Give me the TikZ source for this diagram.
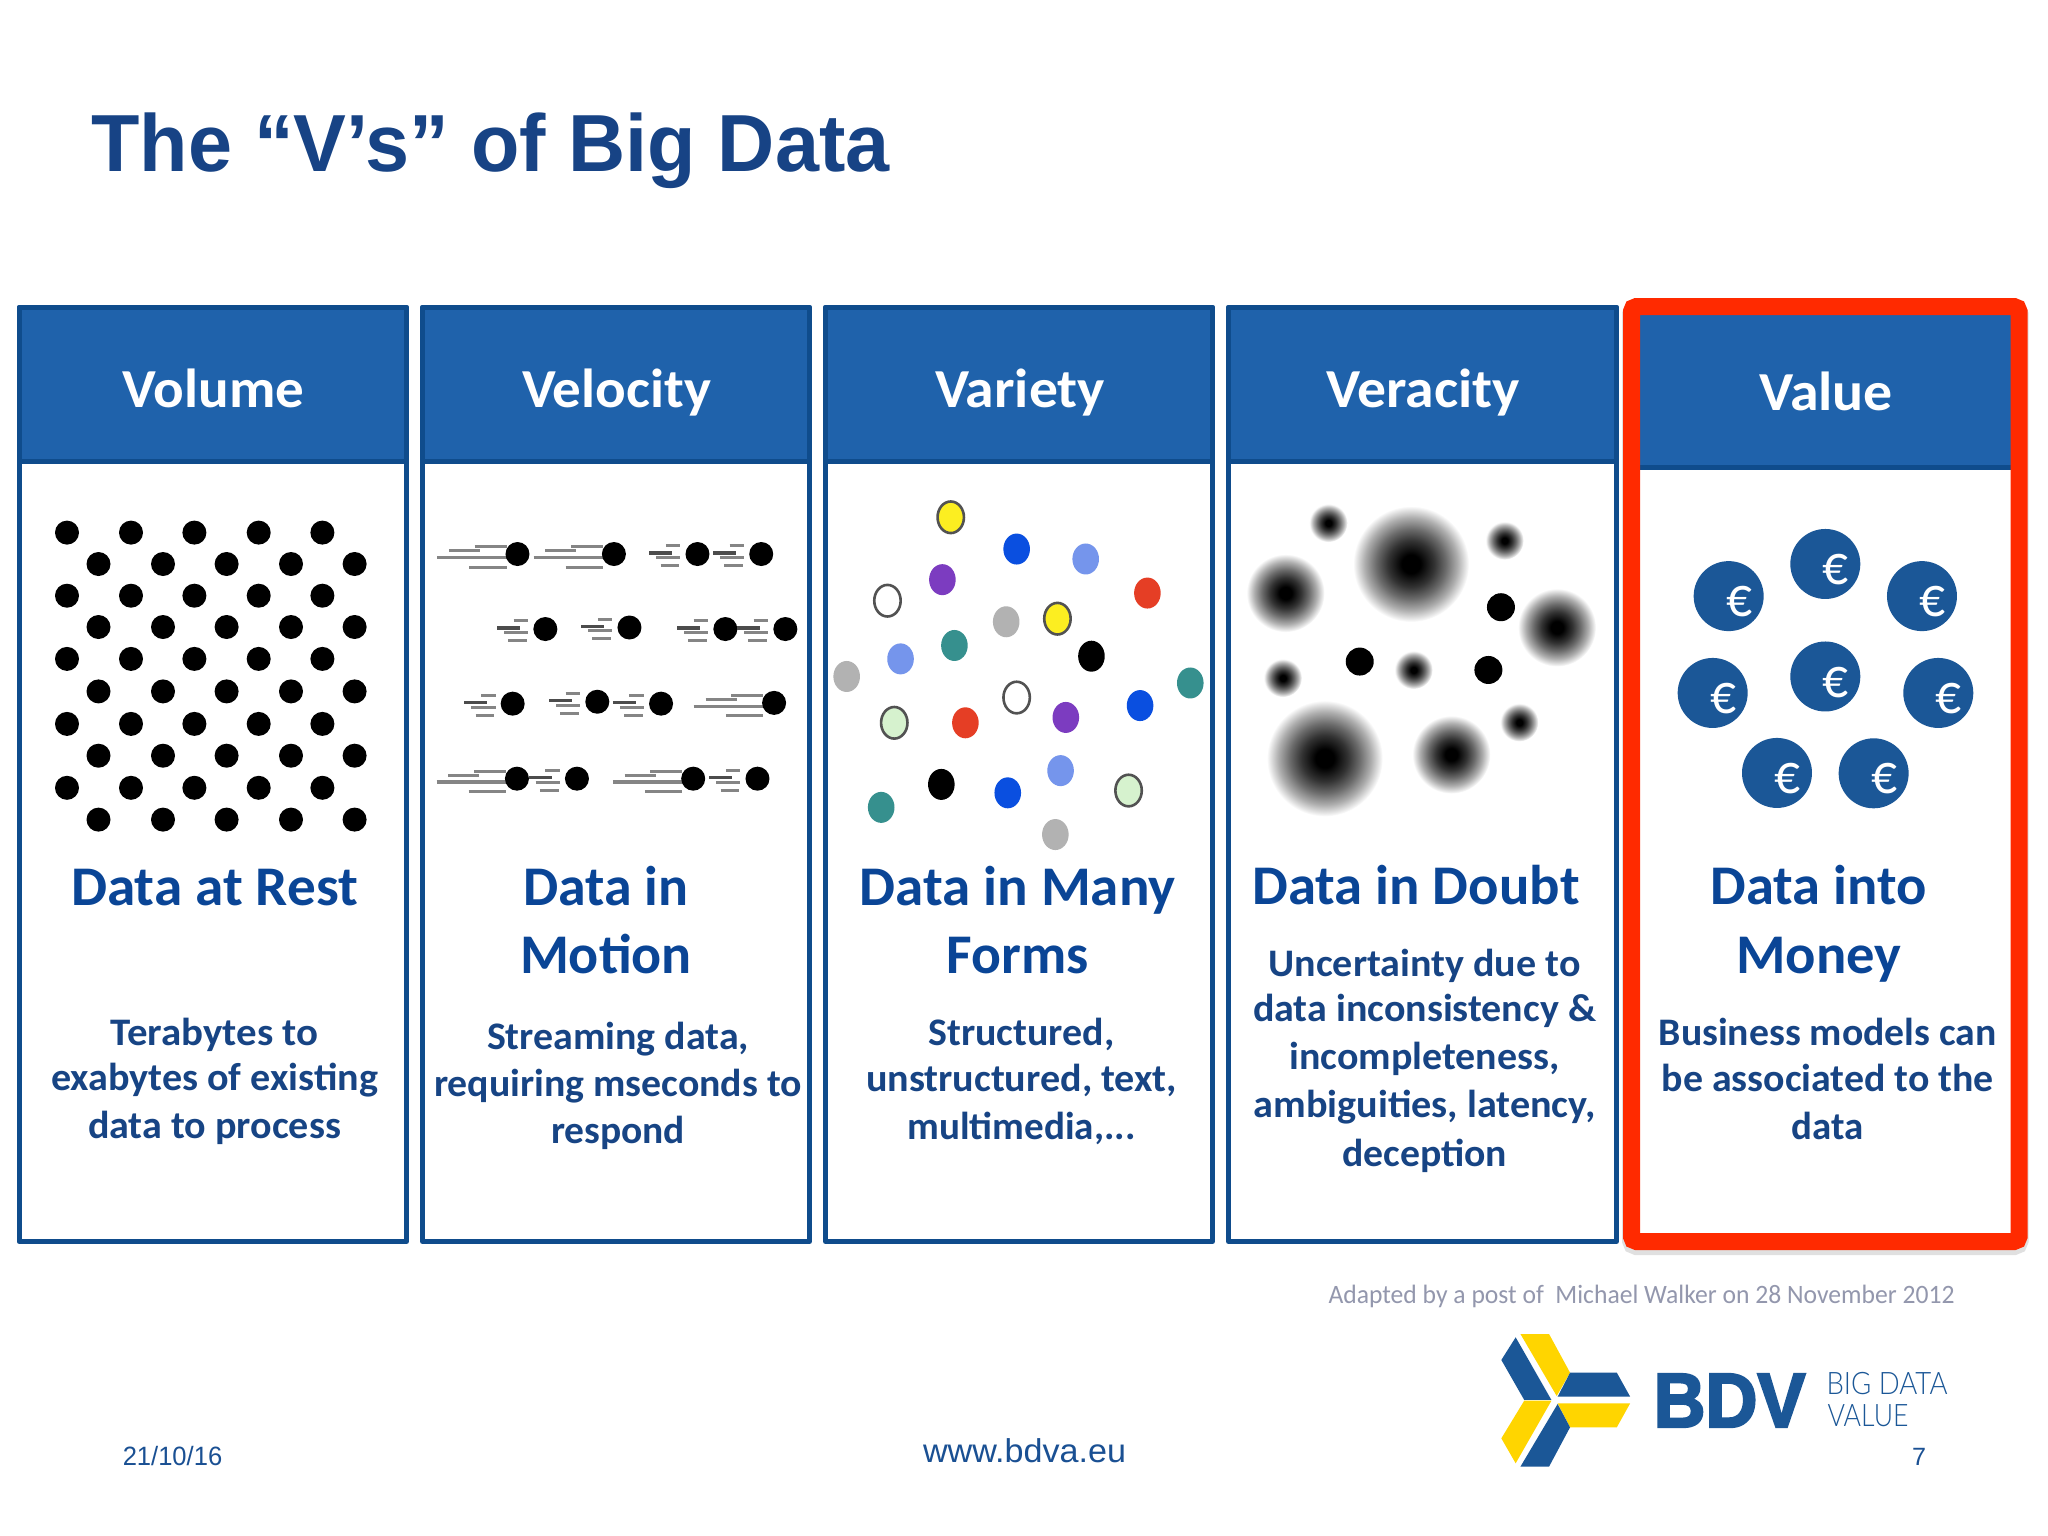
\documentclass[tikz,border=0pt]{standalone}
\usepackage{fontspec}
\setmainfont{Carlito}
\newfontfamily\arialf{Liberation Sans}
\newfontfamily\bdvf[FakeBold=3]{Liberation Sans Bold}
\newfontfamily\lightf{Lato Light}
\usetikzlibrary{calc}
\definecolor{hdr}{HTML}{1F62AB}
\definecolor{bord}{HTML}{0F4C8C}
\definecolor{subc}{HTML}{0A4596}
\definecolor{descc}{HTML}{174484}
\definecolor{titlec}{HTML}{174385}
\definecolor{footn}{HTML}{1A5093}
\definecolor{redc}{HTML}{FF2A00}
\definecolor{coin}{HTML}{1B5797}
\definecolor{logoy}{HTML}{FFD500}
\definecolor{footc}{HTML}{9397AD}
\definecolor{cy}{HTML}{FCEE21}
\definecolor{cb}{HTML}{0A4FE0}
\definecolor{cl}{HTML}{7595EC}
\definecolor{cp}{HTML}{7C3CC0}
\definecolor{cr}{HTML}{E53E25}
\definecolor{cg}{HTML}{B2B2B2}
\definecolor{ct}{HTML}{36908E}
\definecolor{cn}{HTML}{D6F2CE}
\pgfdeclareradialshading{blurball}{\pgfpoint{0bp}{0bp}}{color(0bp)=(black);color(4bp)=(black);color(10bp)=(black!80);color(15bp)=(black!58);color(20bp)=(black!32);color(23.5bp)=(black!10);color(25bp)=(white);color(100bp)=(white)}
\newsavebox\fitbox
\newcommand{\fitto}[2]{\sbox\fitbox{#2}\pgfmathsetmacro\fitr{#1/\wd\fitbox}\scalebox{\fitr}[1]{\usebox\fitbox}}
% name, style, cx, baseline, width, text
\newcommand{\lbl}[6]{\node[lab,#2] (#1) at (#3,#4) {\fitto{#5}{#6}};}
\newcommand{\trailL}[2]{\begin{scope}[shift={(#1,#2)}]
\draw[trail] (-80,-20)--(-20,-20);\draw[trail] (-128,-8)--(-70,-8);\draw[trail,line width=3.6pt] (-150,9)--(-20,9);\draw[trail] (-90,34)--(-20,34);
\fill (0,0) circle[radius=12pt];\end{scope}}
\newcommand{\trailS}[2]{\begin{scope}[shift={(#1,#2)}]
\draw[trail] (-59,-21)--(-32,-21);\draw[trail,line width=3.6pt,black!70] (-90,-3)--(-47,-3);\draw[trail] (-77,9)--(-32,9);\draw[trail] (-69,30)--(-34,30);
\fill (0,0) circle[radius=12pt];\end{scope}}
\tikzset{
 lab/.style={anchor=base,inner sep=0pt,outer sep=0pt},
 headt/.style={font=\bfseries\fontsize{55}{60}\selectfont,text=white},
 subt/.style={font=\bfseries\fontsize{56}{60}\selectfont,text=subc},
 desct/.style={font=\bfseries\fontsize{39}{44}\selectfont,text=descc},
 card/.style={draw=bord,line width=5pt,fill=white,line join=round},
 head/.style={draw=bord,line width=5pt,fill=hdr,line join=round},
 trail/.style={draw=black!48,line width=3pt},
 outl/.style={draw=black!68,line width=2.6pt}
}
\begin{document}
\begin{tikzpicture}[x=1pt,y=-1pt]
\useasboundingbox (0,0) rectangle (2048,1536);
\fill[white] (0,0) rectangle (2048,1536);
% title
\lbl{title}{font=\arialf\bfseries\fontsize{81}{90}\selectfont,text=titlec}{490.5}{171.5}{798}{The “V’s” of Big Data}
% cards
\foreach \l/\r in {19/406.5,422.5/809.5,825.5/1212.5,1228.5/1616.5}{
 \draw[card] (\l,307.5) rectangle (\r,1241.5);
 \draw[head] (\l,307.5) rectangle (\r,461.5);
}
% red frame
\draw[black!22,line width=17pt,rounded corners=5pt] (1631.5,309.5) rectangle (2019,1244.5);
\draw[black!12,line width=19pt,rounded corners=5pt] (1631.5,309.5) rectangle (2019,1245.5);
\fill[white] (1640,315) rectangle (2011,1233);
\fill[hdr] (1640,315) rectangle (2011,465);
\fill[bord] (1640,465) rectangle (2011,469.5);
\draw[redc,line width=17pt,rounded corners=5pt] (1631.5,306.5) rectangle (2019,1241.5);
% headings
\lbl{h1}{headt}{213.5}{407}{181.6}{Volume}
\lbl{h2}{headt}{616.5}{407}{189}{Velocity}
\lbl{h3}{headt}{1020}{407}{170}{Variety}
\lbl{h4}{headt}{1423}{407}{193.5}{Veracity}
\lbl{h5}{headt}{1826}{410}{134}{Value}
% sub-headings
\lbl{s1}{subt}{214.5}{905}{287}{Data at Rest}
\lbl{s2a}{subt}{605.5}{905}{165}{Data in}
\lbl{s2b}{subt}{606}{973.7}{172}{Motion}
\lbl{s3a}{subt}{1017.6}{905}{316}{Data in Many}
\lbl{s3b}{subt}{1017.6}{973.7}{142}{Forms}
\lbl{s4}{subt}{1416}{904}{327}{Data in Doubt}
\lbl{s5a}{subt}{1818.7}{904}{216}{Data into}
\lbl{s5b}{subt}{1818.7}{973.7}{165}{Money}
% descriptions
\lbl{d1a}{desct}{214.5}{1045}{208}{Terabytes to}
\lbl{d1b}{desct}{214.5}{1090}{327}{exabytes of existing}
\lbl{d1c}{desct}{214.5}{1138}{253}{data to process}
\lbl{d2a}{desct}{618}{1049}{262}{Streaming data,}
\lbl{d2b}{desct}{618}{1096}{368}{requiring mseconds to}
\lbl{d2c}{desct}{618}{1143}{134}{respond}
\lbl{d3a}{desct}{1021.5}{1045}{186}{Structured,}
\lbl{d3b}{desct}{1021.5}{1091}{311}{unstructured, text,}
\lbl{d3c}{desct}{1021.5}{1139}{228}{multimedia,...}
\lbl{d4a}{desct}{1424.6}{976}{312}{Uncertainty due to}
\lbl{d4b}{desct}{1424.6}{1021.7}{343}{data inconsistency \&}
\lbl{d4c}{desct}{1424.6}{1069}{270}{incompleteness,}
\lbl{d4d}{desct}{1424.6}{1117.7}{342}{ambiguities, latency,}
\lbl{d4e}{desct}{1424.6}{1166}{165}{deception}
\lbl{d5a}{desct}{1827.7}{1045}{338}{Business models can}
\lbl{d5b}{desct}{1827.7}{1091}{332}{be associated to the}
\lbl{d5c}{desct}{1827.7}{1139}{72}{data}
% Volume dots
\foreach \y in {532.6,595.7,658.9,723.9,787.8}\foreach \x in {67,131,194.4,258.7,322.4}{\fill (\x,\y) circle[radius=12];}
\foreach \y in {564,627,691.4,755.7,819.6}\foreach \x in {98.5,163,226.6,291,354.6}{\fill (\x,\y) circle[radius=12];}
% Velocity
\begin{scope}[shift={(0,280)},x=0.5357pt,y=-0.3827pt]
\trailL{966}{716}\trailL{1146}{716}\trailS{1302}{716}\trailS{1421}{716}
\trailS{1018}{912}\trailS{1175}{908}\trailS{1354}{912}\trailS{1466}{912}
\trailS{957}{1107}\trailS{1115}{1102}\trailS{1234}{1107}\trailL{1445}{1105}
\trailL{965}{1303}\trailS{1077}{1303}\trailL{1294}{1303}\trailS{1414}{1303}
\end{scope}
% Variety
\begin{scope}[shift={(820,280)},x=0.523pt,y=-0.3827pt]
\foreach \x/\y/\c in {376/703/cb,508/729/cl,234/783/cp,626/818/cr,356/893/cg,257/955/ct,154/990/cl,519/983/black,51/1036/cg,708/1053/ct,612/1112/cb,470/1143/cp,278/1157/cr,232/1318/black,359/1340/cb,460/1282/cl,117/1378/ct,450/1449/cg}{\fill[\c] (\x,\y) ellipse[x radius=13.3pt,y radius=15.5pt];}
\foreach \x/\y/\c in {250/620/cy,454/885/cy,129/838/white,376/1091/white,142/1157/cn,590/1334/cn}{\filldraw[fill=\c,outl] (\x,\y) ellipse[x radius=13.2pt,y radius=15.8pt];}
% Veracity
\foreach \x/\y/\R in {972/635/19,1130/742/58,1309/681/19,890/818/39,1409/908/39,1135/1019/19,885/1040/19,1337/1156/19,965/1250/58,1207/1240/39}{\shade[shading=blurball] (\x,\y) circle[radius=\R pt];}
\foreach \x/\y in {1302/855,1032/997,1278/1019}{\fill (\x,\y) circle[radius=14pt];}
\end{scope}
% Value coins
\begin{scope}[shift={(1600,280)},x=0.3333pt,y=-0.3827pt]
\foreach \x/\y [count=\i] in {386/826,676/742,966/826,338/1079,676/1036,1015/1079,531/1288,821/1289}{
 \fill[coin] (\x,\y) circle[radius=35pt];
 \node[lab,font=\fontsize{57}{57}\selectfont,text=white] (eu\i) at ($(\x,\y)+(32,54)$) {\fitto{26}{€}};
}
\end{scope}
% footer
\lbl{adapt}{font=\fontsize{26.5}{30}\selectfont,text=footc}{1641.5}{1303.5}{626}{Adapted by a post of\ \ Michael Walker on 28 November 2012}
\lbl{date}{font=\arialf\fontsize{26.5}{30}\selectfont,text=footn}{172.5}{1465.7}{99.5}{21/10/16}
\lbl{web}{font=\arialf\fontsize{33}{36}\selectfont,text=footn}{1024.5}{1462}{203}{www.bdva.eu}
\lbl{pg}{font=\arialf\fontsize{25}{30}\selectfont,text=footn}{1919}{1465}{14}{7}
% logo
\begin{scope}[shift={(1300,1220)},x=0.4771pt,y=-0.3333pt]
\fill[coin] (452,352)--(527,540)--(470,540)--(422,420)--cycle;
\fill[logoy] (462,342)--(522,342)--(566,458)--(538,528)--cycle;
\fill[coin] (566,458)--(664,458)--(692,530)--(540,530)--cycle;
\fill[logoy] (540,550)--(692,550)--(664,622)--(566,622)--cycle;
\fill[coin] (540,552)--(566,622)--(522,740)--(462,740)--cycle;
\fill[logoy] (470,542)--(527,542)--(452,730)--(422,655)--cycle;
\end{scope}
\lbl{bdv}{font=\bdvf\fontsize{77}{80}\selectfont,text=coin}{1729.5}{1427}{152}{BDV}
\lbl{bd1}{font=\lightf\fontsize{31}{34}\selectfont,text=coin}{1887}{1394.7}{121}{BIG DATA}
\lbl{bd2}{font=\lightf\fontsize{31}{34}\selectfont,text=coin}{1868}{1426.7}{81}{VALUE}
\end{tikzpicture}
\end{document}
